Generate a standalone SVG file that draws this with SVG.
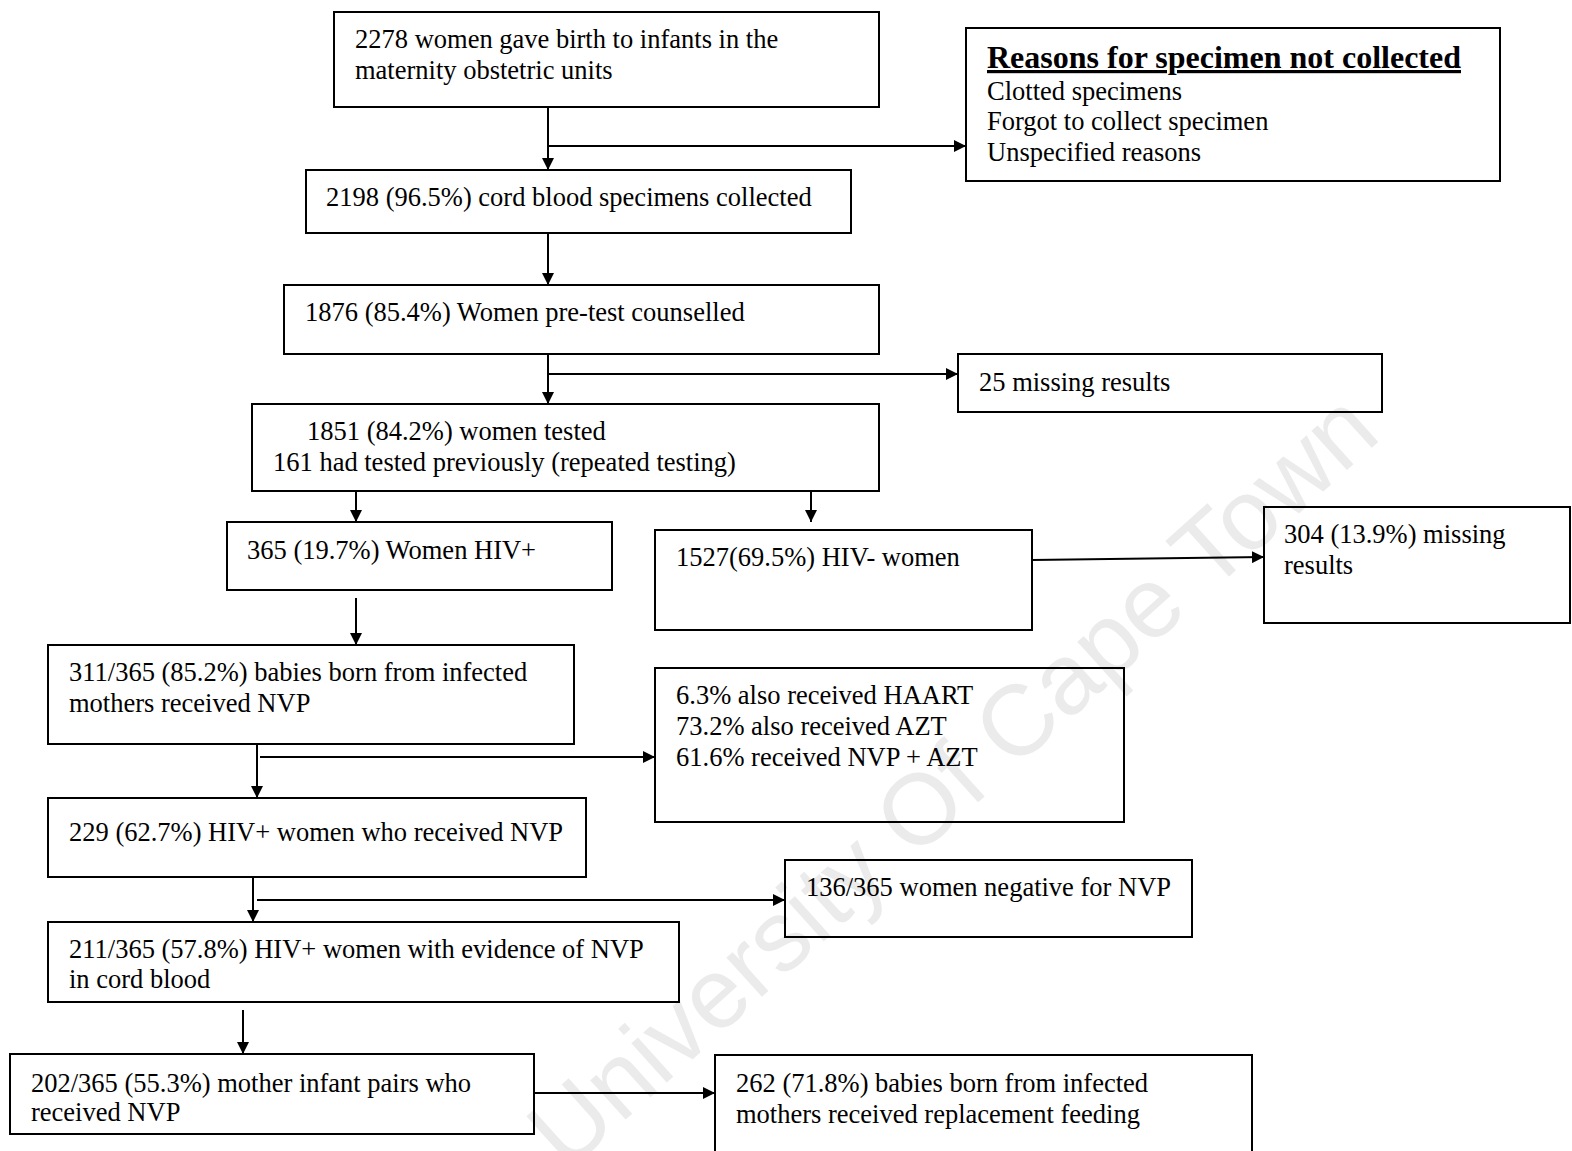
<svg xmlns="http://www.w3.org/2000/svg" width="1572" height="1151" viewBox="0 0 1572 1151">
<style>
.box{fill:none;stroke:#000;stroke-width:2}
.t{font-family:"Liberation Serif","Times New Roman",serif;font-size:26.5px;fill:#000}
.title{font-family:"Liberation Serif","Times New Roman",serif;font-size:32px;font-weight:bold;fill:#000;text-decoration:underline}
.c{fill:none;stroke:#000;stroke-width:2}
.wm{font-family:"Liberation Sans",Arial,sans-serif;font-size:100px;fill:#ebebeb}
</style>
<defs>
<marker id="ah" markerWidth="12" markerHeight="12" refX="12" refY="6" orient="auto" markerUnits="userSpaceOnUse">
<path d="M0,0 L12,6 L0,12 Z" fill="#000"/>
</marker>
</defs>
<rect width="1572" height="1151" fill="#fff"/>
<text class="wm" x="975" y="805" text-anchor="middle" transform="rotate(-42 975 805)">University Of Cape Town</text>

<g id="connectors">
<line class="c" x1="548" y1="107" x2="548" y2="170" marker-end="url(#ah)"/>
<line class="c" x1="548" y1="146" x2="966" y2="146" marker-end="url(#ah)"/>
<line class="c" x1="548" y1="233" x2="548" y2="285" marker-end="url(#ah)"/>
<line class="c" x1="548" y1="354" x2="548" y2="404" marker-end="url(#ah)"/>
<line class="c" x1="548" y1="374" x2="958" y2="374" marker-end="url(#ah)"/>
<line class="c" x1="356" y1="491" x2="356" y2="522" marker-end="url(#ah)"/>
<line class="c" x1="811" y1="491" x2="811" y2="522" marker-end="url(#ah)"/>
<line class="c" x1="1032" y1="560" x2="1264" y2="557" marker-end="url(#ah)"/>
<line class="c" x1="356" y1="598" x2="356" y2="645" marker-end="url(#ah)"/>
<line class="c" x1="257" y1="744" x2="257" y2="798" marker-end="url(#ah)"/>
<line class="c" x1="260" y1="757" x2="655" y2="757" marker-end="url(#ah)"/>
<line class="c" x1="253" y1="877" x2="253" y2="922" marker-end="url(#ah)"/>
<line class="c" x1="257" y1="900" x2="785" y2="900" marker-end="url(#ah)"/>
<line class="c" x1="243" y1="1010" x2="243" y2="1054" marker-end="url(#ah)"/>
<line class="c" x1="534" y1="1093" x2="715" y2="1093" marker-end="url(#ah)"/>
</g>

<g id="n-births"><rect class="box" x="334" y="12" width="545" height="95"/>
<text class="t" x="355" y="48">2278 women gave birth to infants in the</text>
<text class="t" x="355" y="79">maternity obstetric units</text></g>

<g id="n-reasons"><rect class="box" x="966" y="28" width="534" height="153"/>
<text class="title" x="987" y="68">Reasons for specimen not collected</text>
<text class="t" x="987" y="100">Clotted specimens</text>
<text class="t" x="987" y="130">Forgot to collect specimen</text>
<text class="t" x="987" y="161">Unspecified reasons</text></g>

<g id="n-collected"><rect class="box" x="306" y="170" width="545" height="63"/>
<text class="t" x="326" y="206">2198 (96.5%) cord blood specimens collected</text></g>

<g id="n-counselled"><rect class="box" x="284" y="285" width="595" height="69"/>
<text class="t" x="305" y="321">1876 (85.4%) Women pre-test counselled</text></g>

<g id="n-missing25"><rect class="box" x="958" y="354" width="424" height="58"/>
<text class="t" x="979" y="391">25 missing results</text></g>

<g id="n-tested"><rect class="box" x="252" y="404" width="627" height="87"/>
<text class="t" x="307" y="440">1851 (84.2%) women tested</text>
<text class="t" x="273" y="471">161 had tested previously (repeated testing)</text></g>

<g id="n-hivpos"><rect class="box" x="227" y="522" width="385" height="68"/>
<text class="t" x="247" y="559">365 (19.7%) Women HIV+</text></g>

<g id="n-hivneg"><rect class="box" x="655" y="530" width="377" height="100"/>
<text class="t" x="676" y="566">1527(69.5%) HIV- women</text></g>

<g id="n-missing304"><rect class="box" x="1264" y="507" width="306" height="116"/>
<text class="t" x="1284" y="543">304 (13.9%) missing</text>
<text class="t" x="1284" y="574">results</text></g>

<g id="n-babiesnvp"><rect class="box" x="48" y="645" width="526" height="99"/>
<text class="t" x="69" y="681">311/365 (85.2%) babies born from infected</text>
<text class="t" x="69" y="712">mothers received NVP</text></g>

<g id="n-haart"><rect class="box" x="655" y="668" width="469" height="154"/>
<text class="t" x="676" y="704">6.3% also received HAART</text>
<text class="t" x="676" y="735">73.2% also received AZT</text>
<text class="t" x="676" y="766">61.6% received NVP + AZT</text></g>

<g id="n-womennvp"><rect class="box" x="48" y="798" width="538" height="79"/>
<text class="t" x="69" y="841">229 (62.7%) HIV+ women who received NVP</text></g>

<g id="n-negative"><rect class="box" x="785" y="860" width="407" height="77"/>
<text class="t" x="806" y="896">136/365 women negative for NVP</text></g>

<g id="n-evidence"><rect class="box" x="48" y="922" width="631" height="80"/>
<text class="t" x="69" y="958">211/365 (57.8%) HIV+ women with evidence of NVP</text>
<text class="t" x="69" y="988">in cord blood</text></g>

<g id="n-pairs"><rect class="box" x="10" y="1054" width="524" height="80"/>
<text class="t" x="31" y="1092">202/365 (55.3%) mother infant pairs who</text>
<text class="t" x="31" y="1121">received NVP</text></g>

<g id="n-replacement"><rect class="box" x="715" y="1055" width="537" height="100"/>
<text class="t" x="736" y="1092">262 (71.8%) babies born from infected</text>
<text class="t" x="736" y="1123">mothers received replacement feeding</text></g>
</svg>
